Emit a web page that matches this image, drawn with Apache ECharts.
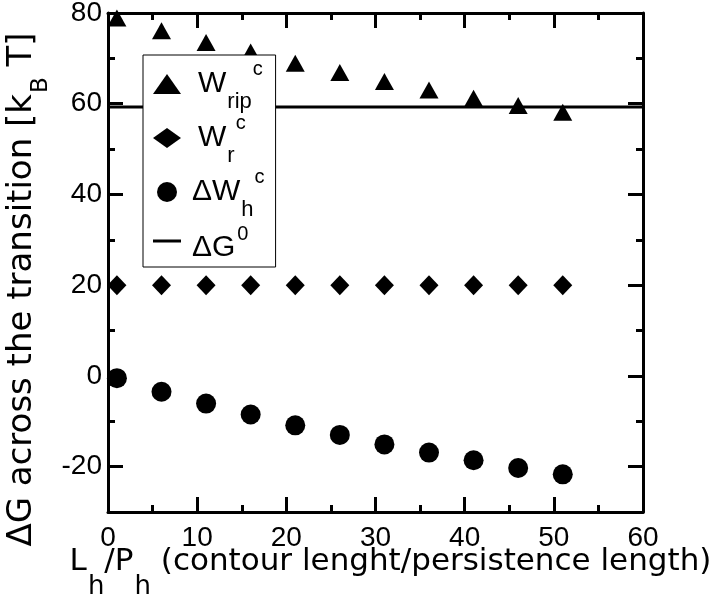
<!DOCTYPE html>
<html>
<head>
<meta charset="utf-8">
<title>ΔG across the transition</title>
<script src="https://cdn.jsdelivr.net/npm/echarts@6/dist/echarts.min.js"></script>
<style>
  html, body { margin: 0; padding: 0; background: #fff; }
  #chart { width: 720px; height: 595px; }
</style>
</head>
<body>
<div id="chart"></div>
<script>
// data
const lhPh = [1, 6, 11, 16, 21, 26, 31, 36, 41, 46, 51]
const wRip = [78.9, 76.1, 73.5, 71.4, 68.9, 66.9, 64.9, 63.0, 61.2, 59.6, 58.1]
const wR = [20, 20, 20, 20, 20, 20, 20, 20, 20, 20, 20]
const dWh = [-0.5, -3.5, -6.1, -8.5, -10.9, -13.0, -15.1, -16.9, -18.6, -20.3, -21.7]
const dG0 = 59.3
const xRange = [0, 60]
const yRange = [-30, 80]

const legendText = {
  Wrip: '{w|W}{sub|rip}{sup|c}',
  Wr: '{w|W}{sub|r}{sup|c}',
  dWh: '{d|ΔW}{sub|h}{sup|c}',
  dG0: '{g|ΔG}{sup0|0}'
}
const xTitle = '{t|L}{s|h}{t|/P}{s|h}{t| (contour lenght/persistence length)}'
const yTitle = '{t|ΔG across the transition [k}{s|B}{t| T]}'

const FONT = 'Liberation Sans'
const TITLE_FONT = 'DejaVu Sans'
const BLACK = '#000'

const pairs = (ys) => lhPh.map((x, i) => [x, ys[i]])

// rich token: every token gets the same total height so lines stay even,
// the padding only moves sub/superscripts up or down
const tok = (font, size, total, shift, left) => {
  const pad = Math.abs(shift) * 2
  return {
    fontFamily: font,
    fontSize: size,
    color: BLACK,
    height: total - pad,
    lineHeight: total,
    padding: shift >= 0 ? [pad, 0, 0, left || 0] : [0, 0, pad, left || 0]
  }
}

const chart = echarts.init(document.getElementById('chart'), null, { renderer: 'canvas' })

// shared look of the box frame
const lineStyle = { color: BLACK, width: 3 }
const xBase = {
  type: 'value',
  min: xRange[0],
  max: xRange[1],
  interval: 10,
  axisLine: { show: true, onZero: false, lineStyle },
  axisTick: { show: true, inside: true, length: 15, lineStyle },
  minorTick: { show: true, splitNumber: 2, length: 7, lineStyle },
  splitLine: { show: false },
  minorSplitLine: { show: false }
}
const yMajor = {
  type: 'value',
  min: yRange[0],
  max: yRange[1],
  minInterval: 20,
  maxInterval: 20,
  axisLine: { show: true, onZero: false, lineStyle },
  axisTick: { show: true, inside: true, length: 15, lineStyle },
  splitLine: { show: false }
}
// minor ticks of y (-10, 10, 30 ...) counted from min -30
const yMinor = {
  type: 'value',
  min: yRange[0],
  max: yRange[1],
  interval: 20,
  axisLine: { show: false, onZero: false },
  axisTick: { show: true, inside: true, length: 7, lineStyle },
  axisLabel: { show: false },
  splitLine: { show: false }
}

const option = {
  animation: false,
  backgroundColor: '#fff',
  grid: { left: 108, right: 77, top: 13, bottom: 83, containLabel: false, outerBoundsMode: 'none' },
  legend: {
    orient: 'vertical',
    left: 143,
    top: 55,
    padding: [4, 11, 4, 10],
    itemGap: 0,
    itemWidth: 28,
    itemHeight: 20,
    selectedMode: false,
    backgroundColor: '#fff',
    borderColor: BLACK,
    borderWidth: 1,
    borderRadius: 0,
    itemStyle: { opacity: 1 },
    data: [
      { name: 'Wrip', icon: 'triangle' },
      { name: 'Wr', icon: 'diamond' },
      { name: 'dWh', icon: 'circle' },
      { name: 'dG0', icon: 'path://M0,0H28V3H0Z' }
    ],
    formatter: (name) => legendText[name],
    textStyle: {
      fontFamily: FONT,
      fontSize: 30,
      color: BLACK,
      lineHeight: 40,
      rich: {
        w: tok(FONT, 30, 40, 0, 12),
        d: tok(FONT, 30, 40, 0, 6),
        g: tok(FONT, 30, 40, 7, 6),
        sub: tok(FONT, 22, 40, 18, 1),
        sup: tok(FONT, 20, 40, -15, 1),
        sup0: tok(FONT, 20, 40, -7, 2)
      }
    }
  },
  xAxis: [
    Object.assign({}, xBase, {
      position: 'bottom',
      axisLabel: { show: true, fontFamily: FONT, fontSize: 28, color: BLACK, margin: 12 },
      name: xTitle,
      nameLocation: 'middle',
      nameGap: 23,
      nameMoveOverlap: false,
      nameTextStyle: {
        fontFamily: TITLE_FONT,
        fontSize: 31,
        color: BLACK,
        lineHeight: 54,
        padding: [0, 0, 0, 30],
        rich: {
          t: tok(TITLE_FONT, 31, 54, 0, 0),
          s: tok(TITLE_FONT, 26, 54, 25, 1)
        }
      }
    }),
    Object.assign({}, xBase, {
      position: 'top',
      axisLabel: { show: false }
    })
  ],
  yAxis: [
    Object.assign({}, yMajor, {
      position: 'left',
      axisLabel: {
        show: true,
        fontFamily: FONT,
        fontSize: 28,
        color: BLACK,
        margin: 6,
        formatter: (v) => (v === yRange[0] ? '' : String(v))
      },
      name: yTitle,
      nameLocation: 'middle',
      nameRotate: 90,
      nameGap: 64,
      nameMoveOverlap: false,
      nameTextStyle: {
        fontFamily: TITLE_FONT,
        fontSize: 34,
        color: BLACK,
        lineHeight: 44,
        padding: [0, 54, 0, 0],
        rich: {
          t: tok(TITLE_FONT, 34, 44, 0, 0),
          s: tok(TITLE_FONT, 23, 44, 19, 1)
        }
      }
    }),
    Object.assign({}, yMinor, { position: 'left' }),
    Object.assign({}, yMajor, { position: 'right', axisLabel: { show: false } }),
    Object.assign({}, yMinor, { position: 'right' })
  ],
  series: [
    {
      name: 'Wrip',
      type: 'scatter',
      symbol: 'triangle',
      symbolSize: [19, 17],
      itemStyle: { color: BLACK, opacity: 1 },
      data: pairs(wRip),
      z: 3
    },
    {
      name: 'Wr',
      type: 'scatter',
      symbol: 'diamond',
      symbolSize: [19, 20],
      itemStyle: { color: BLACK, opacity: 1 },
      data: pairs(wR),
      z: 3
    },
    {
      name: 'dWh',
      type: 'scatter',
      symbol: 'circle',
      symbolSize: 20,
      itemStyle: { color: BLACK, opacity: 1 },
      data: pairs(dWh),
      z: 3
    },
    {
      name: 'dG0',
      type: 'line',
      symbol: 'none',
      showSymbol: false,
      lineStyle: { color: BLACK, width: 3 },
      itemStyle: { color: BLACK },
      data: [[xRange[0], dG0], [xRange[1], dG0]],
      z: 2
    }
  ]
}

chart.setOption(option)
</script>
</body>
</html>
